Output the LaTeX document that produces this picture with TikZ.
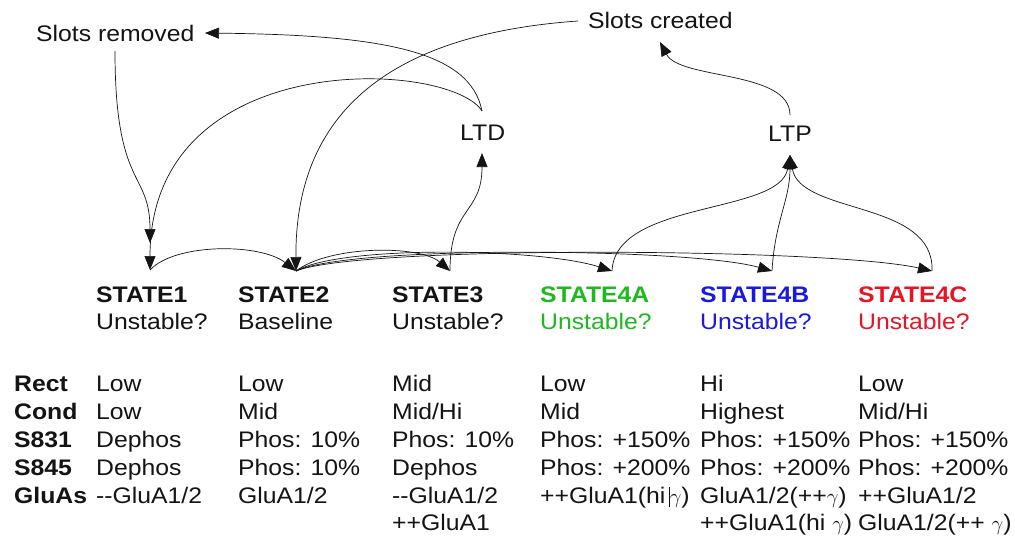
\documentclass[tikz,border=0pt]{standalone}
\usepackage{fontspec}
\setmainfont{Liberation Sans}[FakeStretch=1.1]
\usetikzlibrary{arrows.meta}
\definecolor{sgreen}{RGB}{30,185,30}
\definecolor{sblue}{RGB}{25,25,225}
\definecolor{sred}{RGB}{232,20,36}
\definecolor{ink}{RGB}{20,20,20}
\begin{document}
\begin{tikzpicture}[x=1pt,y=-1pt,
  txt/.style={anchor=base west,inner sep=0pt,font=\fontsize{22.5}{26}\selectfont,text=ink},
  hdr/.style={txt,font=\fontsize{22.5}{26}\selectfont\bfseries},
  conn/.style={draw=ink,line width=0.7pt,-{Triangle[length=14pt,width=11pt]}},
  plainline/.style={draw=ink,line width=0.7pt}]
\useasboundingbox[fill=white] (0,0) rectangle (1015,542);

% top labels
\node[txt] (srem) at (36,41) {Slots removed};
\node[txt] (screa) at (588,28) {Slots created};
\node[txt] (ltd) at (460,140) {LTD};
\node[txt] (ltp) at (768,141) {LTP};

% states
\node[hdr] (s1) at (96,302) {STATE1};
\node[txt] (s1u) at (96,329) {Unstable?};
\node[hdr] (s2) at (238,302) {STATE2};
\node[txt] (s2u) at (238,329) {Baseline};
\node[hdr] (s3) at (392,302) {STATE3};
\node[txt] (s3u) at (392,329) {Unstable?};
\node[hdr,text=sgreen] (s4a) at (540,302) {STATE4A};
\node[txt,text=sgreen] (s4au) at (540,329) {Unstable?};
\node[hdr,text=sblue] (s4b) at (700,302) {STATE4B};
\node[txt,text=sblue] (s4bu) at (700,329) {Unstable?};
\node[hdr,text=sred] (s4c) at (858,302) {STATE4C};
\node[txt,text=sred] (s4cu) at (858,329) {Unstable?};

% table
\node[hdr] (lrect) at (14,391) {Rect};
\node[hdr] (lcond) at (14,419) {Cond};
\node[hdr] (ls831) at (14,447) {S831};
\node[hdr] (ls845) at (14,475) {S845};
\node[hdr] (lglu) at (14,503) {GluAs};

\node[txt] (r11) at (96,391) {Low};
\node[txt] (r12) at (238,391) {Low};
\node[txt] (r13) at (392,391) {Mid};
\node[txt] (r14) at (540,391) {Low};
\node[txt] (r15) at (700,391) {Hi};
\node[txt] (r16) at (858,391) {Low};

\node[txt] (r21) at (96,419) {Low};
\node[txt] (r22) at (238,419) {Mid};
\node[txt] (r23) at (392,419) {Mid/Hi};
\node[txt] (r24) at (540,419) {Mid};
\node[txt] (r25) at (700,419) {Highest};
\node[txt] (r26) at (858,419) {Mid/Hi};

\node[txt] (r31) at (96,447) {Dephos};
\node[txt] (r32) at (238,447) {Phos: 10\%};
\node[txt] (r33) at (392,447) {Phos: 10\%};
\node[txt] (r34) at (540,447) {Phos: +150\%};
\node[txt] (r35) at (700,447) {Phos: +150\%};
\node[txt] (r36) at (858,447) {Phos: +150\%};

\node[txt] (r41) at (96,475) {Dephos};
\node[txt] (r42) at (238,475) {Phos: 10\%};
\node[txt] (r43) at (392,475) {Dephos};
\node[txt] (r44) at (540,475) {Phos: +200\%};
\node[txt] (r45) at (700,475) {Phos: +200\%};
\node[txt] (r46) at (858,475) {Phos: +200\%};

\node[txt] (r51) at (96,503) {-{}-GluA1/2};
\node[txt] (r52) at (238,503) {GluA1/2};
\node[txt] (r53) at (392,503) {-{}-GluA1/2};
\node[txt] (r54) at (540,503) {++GluA1(hi\,\rule[-4pt]{0.6pt}{20pt}$\gamma$)};
\node[txt] (r55) at (700,503) {GluA1/2(++$\gamma$)};
\node[txt] (r56) at (858,503) {++GluA1/2};

\node[txt] (r63) at (392,530) {++GluA1};
\node[txt] (r65) at (700,530) {++GluA1(hi $\gamma$)};
\node[txt] (r66) at (858,530) {GluA1/2(++ $\gamma$)};

% connector end points
\coordinate (sremb) at (115,51);
\coordinate (sremr) at (205,33);
\coordinate (screl) at (578,21);
\coordinate (screb) at (660,42);
\coordinate (ltdt) at (482,111);
\coordinate (ltdb) at (482,153);
\coordinate (ltpt) at (790,115);
\coordinate (ltpb) at (790,155);
\coordinate (t1a) at (150,243);
\coordinate (t1b) at (150,270);
\coordinate (t2) at (296,271);
\coordinate (t3) at (450,271);
\coordinate (t4a) at (612,271);
\coordinate (t4b) at (772,271);
\coordinate (t4c) at (932,271);

% connectors
\draw[conn] (sremb) .. controls (115,190) and (150,170) .. (t1a);
\draw[conn] (ltdt) .. controls (450,60) and (150,45) .. (t1b);
\draw[conn] (ltdt) .. controls (470,50) and (380,35) .. (sremr);
\draw[conn] (screl) .. controls (380,35) and (295,120) .. (t2);
\draw[conn] (ltpt) .. controls (790,70) and (680,80) .. (screb);
\draw[conn] (t3) .. controls (450,205) and (482,215) .. (ltdb);
\draw[conn] (t4a) .. controls (615,200) and (780,215) .. (ltpb);
\draw[conn] (t4b) .. controls (775,220) and (790,200) .. (ltpb);
\draw[conn] (t4c) .. controls (935,200) and (800,215) .. (ltpb);
\draw[conn] (t1b) .. controls (175,243) and (260,243) .. (t2);
\draw[conn] (t2) .. controls (330,245) and (420,245) .. (t3);
\draw[conn] (t2) .. controls (340,245) and (540,248) .. (t4a);
\draw[conn] (t2) .. controls (350,245) and (690,248) .. (t4b);
\draw[conn] (t2) .. controls (360,245) and (830,248) .. (t4c);
\end{tikzpicture}
\end{document}
